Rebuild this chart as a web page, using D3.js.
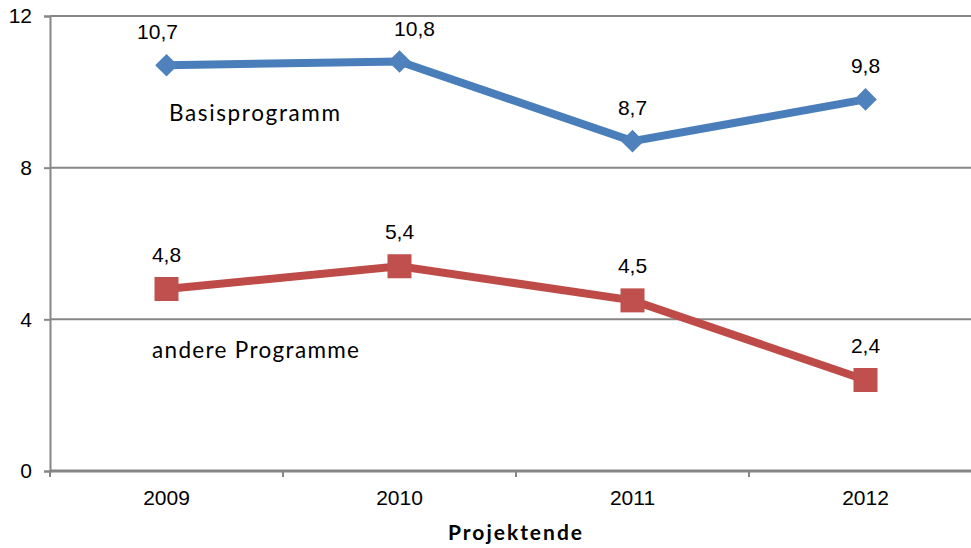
<!DOCTYPE html>
<html>
<head>
<meta charset="utf-8">
<script src="https://cdn.jsdelivr.net/npm/d3@7"></script>
<style>
  body { margin: 0; background: #fff; }
  svg { display: block; }
</style>
</head>
<body>
<div id="chart"></div>
<script>
// Data
const years = ['2009', '2010', '2011', '2012']
const basisValues = [10.7, 10.8, 8.7, 9.8]
const andereValues = [4.8, 5.4, 4.5, 2.4]
const yTicks = [0, 4, 8, 12]
const seriesNames = ['Basisprogramm', 'andere Programme']
const axisTitle = 'Projektende'

// Layout
let chartWidth = 971
let chartHeight = 548
let plotLeft = 50
let plotRight = 982   // plot area runs slightly past the picture edge
let plotTop = 16
let plotBottom = 471
let basisLabelShift = [-9, 15, 0, 0]   // the two first labels were moved by hand

let svg = d3.select('#chart')
            .append('svg')
            .attr('width', chartWidth)
            .attr('height', chartHeight)

let x = d3.scaleBand().domain(years).range([plotLeft, plotRight])
let y = d3.scaleLinear().domain([0, 12]).range([plotBottom, plotTop])
let fmt = v => d3.format('.1f')(v).replace('.', ',')
let numFont = 'Liberation Sans, Arial, sans-serif'

// Horizontal gridlines
svg.selectAll('.grid')
    .data(yTicks.filter(d => d > 0))
    .enter()
    .append('line')
    .attr('x1', plotLeft)
    .attr('x2', plotRight)
    .attr('y1', d => y(d))
    .attr('y2', d => y(d))
    .attr('stroke', '#868686')
    .attr('stroke-width', 2)

// Y axis
let yAxis = svg.append('g')
    .attr('transform', `translate(${plotLeft},0)`)
    .call(d3.axisLeft(y).tickValues(yTicks).tickSize(6).tickPadding(12).tickFormat(d3.format('d')))
yAxis.select('.domain').attr('stroke', '#868686').attr('stroke-width', 2)
yAxis.selectAll('.tick line').attr('stroke', '#868686').attr('stroke-width', 2)
yAxis.selectAll('.tick text')
    .attr('font-family', numFont)
    .attr('font-size', 21)
    .attr('fill', '#000')

// X axis line and tick marks between categories
let xAxis = svg.append('g')
xAxis.append('line')
    .attr('x1', plotLeft)
    .attr('x2', plotRight)
    .attr('y1', y(0))
    .attr('y2', y(0))
    .attr('stroke', '#868686')
    .attr('stroke-width', 3)
xAxis.selectAll('.xtick')
    .data(years)
    .enter()
    .append('line')
    .attr('x1', d => x(d))
    .attr('x2', d => x(d))
    .attr('y1', y(0))
    .attr('y2', y(0) + 6)
    .attr('stroke', '#868686')
    .attr('stroke-width', 2)
xAxis.selectAll('.xlabel')
    .data(years)
    .enter()
    .append('text')
    .attr('x', d => x(d) + x.bandwidth() / 2)
    .attr('y', 505)
    .attr('text-anchor', 'middle')
    .attr('font-family', numFont)
    .attr('font-size', 21)
    .text(d => d)

svg.append('text')
    .attr('x', 448)
    .attr('y', 540)
    .attr('font-family', 'Lato, sans-serif')
    .attr('font-weight', 'bold')
    .attr('font-size', 21)
    .attr('textLength', 134)
    .attr('lengthAdjust', 'spacing')
    .text(axisTitle)

let cx = d => x(d) + x.bandwidth() / 2
let line = d3.line().x((d, i) => cx(years[i])).y(d => y(d))

// Red series
svg.append('path')
    .attr('d', line(andereValues))
    .attr('fill', 'none')
    .attr('stroke', '#BE4B48')
    .attr('stroke-width', 8)
svg.selectAll('.sq')
    .data(andereValues)
    .enter()
    .append('rect')
    .attr('x', (d, i) => cx(years[i]) - 12)
    .attr('y', d => y(d) - 12)
    .attr('width', 24)
    .attr('height', 24)
    .attr('fill', '#C0504D')

// Blue series
svg.append('path')
    .attr('d', line(basisValues))
    .attr('fill', 'none')
    .attr('stroke', '#4A7EBB')
    .attr('stroke-width', 8)
svg.selectAll('.dm')
    .data(basisValues)
    .enter()
    .append('path')
    .attr('d', d3.symbol().type(d3.symbolSquare).size(256))
    .attr('transform', (d, i) => `translate(${cx(years[i])},${y(d)}) rotate(45)`)
    .attr('fill', '#4F81BD')

// Data labels
svg.selectAll('.dlb')
    .data(basisValues)
    .enter()
    .append('text')
    .attr('x', (d, i) => cx(years[i]) + basisLabelShift[i])
    .attr('y', d => y(d) - 26)
    .attr('text-anchor', 'middle')
    .attr('font-family', numFont)
    .attr('font-size', 21)
    .text(d => fmt(d))
svg.selectAll('.dla')
    .data(andereValues)
    .enter()
    .append('text')
    .attr('x', (d, i) => cx(years[i]))
    .attr('y', d => y(d) - 27)
    .attr('text-anchor', 'middle')
    .attr('font-family', numFont)
    .attr('font-size', 21)
    .text(d => fmt(d))

// Series names inside the plot
svg.append('text')
    .attr('x', 169)
    .attr('y', 121)
    .attr('font-family', 'Lato, sans-serif')
    .attr('font-size', 22.5)
    .attr('textLength', 171)
    .attr('lengthAdjust', 'spacing')
    .text(seriesNames[0])
svg.append('text')
    .attr('x', 152)
    .attr('y', 358)
    .attr('font-family', 'Lato, sans-serif')
    .attr('font-size', 22.5)
    .attr('textLength', 207)
    .attr('lengthAdjust', 'spacing')
    .text(seriesNames[1])
</script>
</body>
</html>
